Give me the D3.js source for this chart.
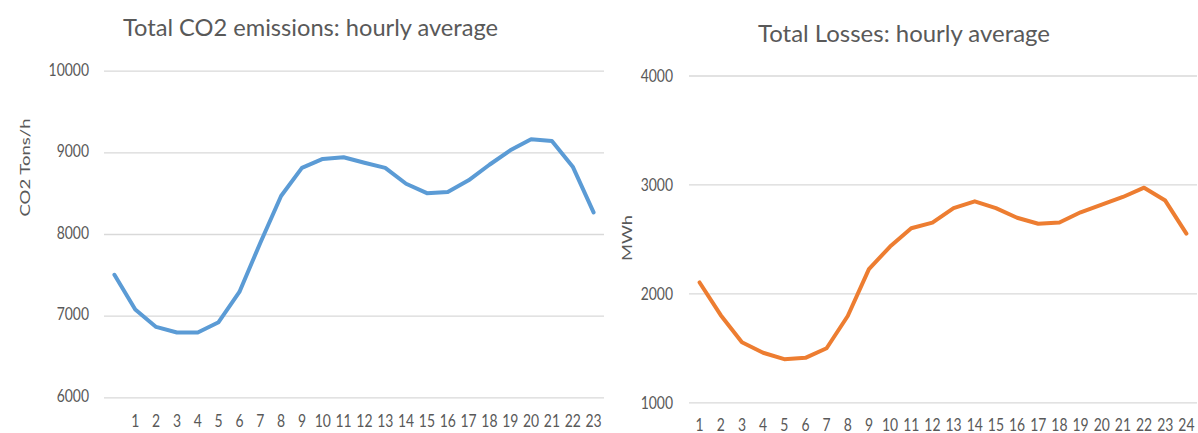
<!DOCTYPE html>
<html>
<head>
<meta charset="utf-8">
<script src="https://cdn.jsdelivr.net/npm/d3@7"></script>
<style>
  html, body { margin: 0; padding: 0; background: #ffffff; }
  svg { display: block; }
  text { font-family: Lato, "Open Sans", sans-serif; fill: #595959; }
</style>
</head>
<body>
<svg id="chart" width="1198" height="433"></svg>
<script>
// ---- Data ----
const co2Hours = ["", "1", "2", "3", "4", "5", "6", "7", "8", "9", "10", "11", "12",
  "13", "14", "15", "16", "17", "18", "19", "20", "21", "22", "23"];
const co2Values = [7500, 7075, 6862, 6793, 6793, 6920, 7290, 7890, 8465, 8810,
  8920, 8940, 8872, 8810, 8615, 8500, 8515, 8658, 8848, 9025, 9160, 9140, 8825, 8265];
const co2Ticks = [6000, 7000, 8000, 9000, 10000];

const lossHours = ["1", "2", "3", "4", "5", "6", "7", "8", "9", "10", "11", "12",
  "13", "14", "15", "16", "17", "18", "19", "20", "21", "22", "23", "24"];
const lossValues = [2100, 1800, 1552, 1455, 1396, 1408, 1496, 1792, 2222, 2430,
  2598, 2650, 2782, 2845, 2782, 2694, 2639, 2650, 2744, 2815, 2885, 2970, 2852, 2548];
const lossTicks = [1000, 2000, 3000, 4000];

const titles = ["Total CO2 emissions: hourly average", "Total Losses: hourly average"];
const yTitles = ["CO2 Tons/h", "MWh"];

// ---- Layout ----
const svg = d3.select("#chart");
const SX = 0.82; // horizontal glyph compression of the reference

const panels = [
  {
    cats: co2Hours, vals: co2Values, ticks: co2Ticks, domain: [6000, 10000],
    x0: 104, x1: 604, yTop: 70.7, yBot: 397.3, color: "#5B9BD5",
    title: titles[0], titleX: 123, titleY: 36, titleW: 375,
    yTitle: yTitles[0], yTitleX: 29.5, yTitleY: 167.5, yTitleW: 98,
    labelGap: 15, yLabDy: 4.3, xLabY: 427.3
  },
  {
    cats: lossHours, vals: lossValues, ticks: lossTicks, domain: [1000, 4000],
    x0: 689, x1: 1197, yTop: 75.5, yBot: 402.3, color: "#ED7D31",
    title: titles[1], titleX: 758, titleY: 41.5, titleW: 292,
    yTitle: yTitles[1], yTitleX: 631.5, yTitleY: 238, yTitleW: 46,
    labelGap: 16, yLabDy: 6, xLabY: 430.7
  }
];

panels.forEach(p => {
  const x = d3.scaleBand().domain(p.cats).range([p.x0, p.x1]);
  const y = d3.scaleLinear().domain(p.domain).range([p.yBot, p.yTop]);
  const g = svg.append("g");

  // gridlines + y labels
  const yAxis = d3.axisLeft(y).tickValues(p.ticks).tickSize(-(p.x1 - p.x0)).tickFormat(d3.format("d"));
  const ya = g.append("g").attr("transform", `translate(${p.x0},0)`).call(yAxis);
  ya.select(".domain").remove();
  ya.selectAll(".tick line").attr("stroke", "#d9d9d9").attr("stroke-width", 1.3);
  ya.selectAll(".tick text")
    .attr("x", -p.labelGap / SX)
    .attr("dy", p.yLabDy)
    .attr("transform", `scale(${SX},1)`)
    .attr("fill", "#595959")
    .style("font-family", "Lato, sans-serif")
    .style("font-size", "17px");

  // x labels
  const xAxis = d3.axisBottom(x).tickSize(0);
  const xa = g.append("g").call(xAxis);
  xa.select(".domain").remove();
  xa.selectAll(".tick text")
    .attr("y", p.xLabY).attr("dy", 0)
    .attr("transform", `scale(${SX},1)`)
    .attr("fill", "#595959")
    .style("font-family", "Lato, sans-serif")
    .style("font-size", "17px");

  // line
  const line = d3.line()
    .x((d, i) => x(p.cats[i]) + x.bandwidth() / 2)
    .y(d => y(d));
  g.append("path")
    .datum(p.vals)
    .attr("d", line)
    .attr("fill", "none")
    .attr("stroke", p.color)
    .attr("stroke-width", 4)
    .attr("stroke-linejoin", "round")
    .attr("stroke-linecap", "round");

  // title
  g.append("text")
    .attr("x", p.titleX).attr("y", p.titleY)
    .attr("textLength", p.titleW)
    .attr("lengthAdjust", "spacingAndGlyphs")
    .style("font-size", "24px")
    .text(p.title);

  // y axis title
  g.append("text")
    .attr("transform", `translate(${p.yTitleX},${p.yTitleY}) rotate(-90) scale(1,${SX})`)
    .attr("text-anchor", "middle")
    .attr("textLength", p.yTitleW)
    .attr("lengthAdjust", "spacingAndGlyphs")
    .style("font-size", "17px")
    .text(p.yTitle);
});
</script>
</body>
</html>
